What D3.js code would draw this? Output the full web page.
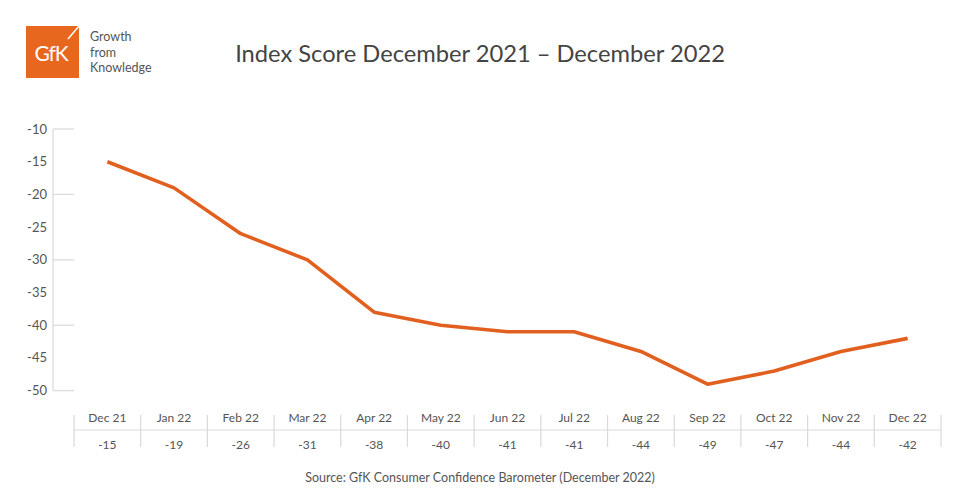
<!DOCTYPE html>
<html>
<head>
<meta charset="utf-8">
<script src="https://cdn.jsdelivr.net/npm/d3@7"></script>
<style>
    body { margin: 0; background: #fff; }
    svg { font-family: Lato, "Open Sans", sans-serif; }
</style>
</head>
<body>
<svg id="chart" width="960" height="497"></svg>
<script>
const months = ["Dec 21", "Jan 22", "Feb 22", "Mar 22", "Apr 22", "May 22", "Jun 22",
    "Jul 22", "Aug 22", "Sep 22", "Oct 22", "Nov 22", "Dec 22"];
// values as plotted by the line
const lineValues = [-15, -19, -26, -30, -38, -40, -41, -41, -44, -49, -47, -44, -42];
// values printed in the table under the chart
const tableValues = ["-15", "-19", "-26", "-31", "-38", "-40", "-41", "-41", "-44", "-49", "-47", "-44", "-42"];
const yTicks = [-10, -15, -20, -25, -30, -35, -40, -45, -50];
const gridTicks = [-10, -20, -30, -40, -50];

const ORANGE = "#e2601f";
const GREY_LINE = "#d9d9d9";
const TEXT = "#555";

const svg = d3.select("#chart");

// logo
let logo = svg.append("g").attr("transform", "translate(26,26)");
logo.append("rect").attr("width", 53).attr("height", 52).attr("fill", "#e8671f");
logo.append("text")
    .attr("x", 25).attr("y", 35)
    .attr("text-anchor", "middle")
    .attr("fill", "#fff")
    .attr("font-size", 21)
    .attr("letter-spacing", -1)
    .text("GfK");
logo.append("line")
    .attr("x1", 53).attr("y1", 0).attr("x2", 42).attr("y2", 13)
    .attr("stroke", "#fff").attr("stroke-width", 1.5);
["Growth", "from", "Knowledge"].forEach(function (t, i) {
    svg.append("text")
        .attr("x", 90).attr("y", 41 + i * 15.5)
        .attr("font-size", 12.5)
        .attr("fill", TEXT)
        .text(t);
});

// title
svg.append("text")
    .attr("x", 480).attr("y", 62)
    .attr("text-anchor", "middle")
    .attr("font-size", 23.7)
    .attr("fill", "#444")
    .text("Index Score December 2021 \u2013 December 2022");

// scales
const x = d3.scaleBand().domain(months).range([74, 941]);
const y = d3.scaleLinear().domain([-50, -10]).range([390.7, 129]);

// y axis
svg.append("line")
    .attr("x1", 53).attr("x2", 53)
    .attr("y1", y(-10)).attr("y2", y(-50))
    .attr("stroke", GREY_LINE).attr("stroke-width", 1.2);
svg.selectAll(".grid").data(gridTicks).enter().append("line")
    .attr("x1", 53).attr("x2", 74)
    .attr("y1", d => y(d)).attr("y2", d => y(d))
    .attr("stroke", GREY_LINE).attr("stroke-width", 1.2);
svg.selectAll(".ylab").data(yTicks).enter().append("text")
    .attr("x", 47).attr("y", d => y(d) + 4.5)
    .attr("text-anchor", "end")
    .attr("font-size", 13)
    .attr("fill", TEXT)
    .text(d => d);

// line
const line = d3.line()
    .x((d, i) => x(months[i]) + x.bandwidth() / 2)
    .y(d => y(d));
svg.append("path")
    .datum(lineValues)
    .attr("d", line)
    .attr("fill", "none")
    .attr("stroke", ORANGE)
    .attr("stroke-width", 3.6)
    .attr("stroke-linejoin", "round");

// table under the chart
svg.append("line")
    .attr("x1", x.range()[0]).attr("x2", x.range()[1])
    .attr("y1", 430).attr("y2", 430)
    .attr("stroke", GREY_LINE).attr("stroke-width", 1.2);
const borders = months.map(m => x(m)).concat([x.range()[1]]);
svg.selectAll(".div").data(borders).enter().append("line")
    .attr("x1", d => d).attr("x2", d => d)
    .attr("y1", 415).attr("y2", 447)
    .attr("stroke", GREY_LINE).attr("stroke-width", 1.2);
svg.selectAll(".mlab").data(months).enter().append("text")
    .attr("x", d => x(d) + x.bandwidth() / 2).attr("y", 422)
    .attr("text-anchor", "middle")
    .attr("font-size", 12)
    .attr("fill", TEXT)
    .text(d => d);
svg.selectAll(".vlab").data(tableValues).enter().append("text")
    .attr("x", (d, i) => x(months[i]) + x.bandwidth() / 2).attr("y", 449)
    .attr("text-anchor", "middle")
    .attr("font-size", 12)
    .attr("fill", TEXT)
    .text(d => d);

// source
svg.append("text")
    .attr("x", 480).attr("y", 482)
    .attr("text-anchor", "middle")
    .attr("font-size", 12.5)
    .attr("fill", TEXT)
    .text("Source: GfK Consumer Confidence Barometer (December 2022)");
</script>
</body>
</html>
